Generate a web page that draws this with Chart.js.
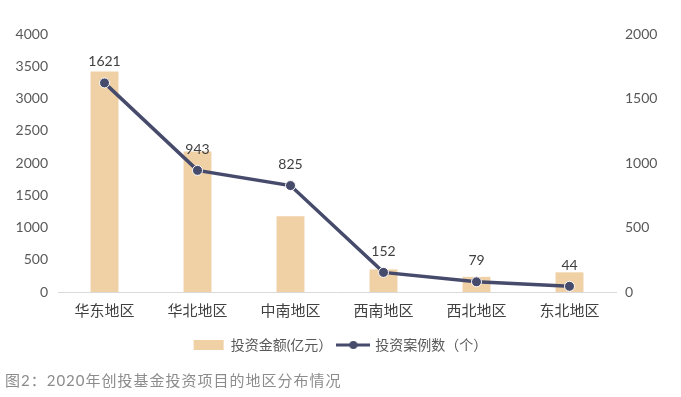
<!DOCTYPE html>
<html>
<head>
<meta charset="utf-8">
<script src="https://cdn.jsdelivr.net/npm/chart.js@4"></script>
<style>
  body { margin: 0; background: #fff; }
  #wrap { position: relative; width: 681px; height: 397px; }
  #caption {
    position: absolute; left: 5px; top: 369px;
    font: 15px Lato, "Noto Sans CJK SC", sans-serif; color: #8c8c8c;
    letter-spacing: 1px;
  }
</style>
</head>
<body>
<div id="wrap">
  <canvas id="myChart" width="681" height="397"></canvas>
  <div id="caption">图2：2020年创投基金投资项目的地区分布情况</div>
</div>
<script>
var regions = ["华东地区", "华北地区", "中南地区", "西南地区", "西北地区", "东北地区"];
var amounts = [3420, 2180, 1175, 350, 235, 305];   // 投资金额(亿元)
var cases = [1621, 943, 825, 152, 79, 44];         // 投资案例数（个）

var fontFam = "Lato, 'Noto Sans CJK SC', sans-serif";
var barColor = "#f0d1a5";
var lineColor = "#464b6c";

// little line-with-dot icon for the legend
var lineIcon = document.createElement("canvas");
lineIcon.width = 34;
lineIcon.height = 10;
var ic = lineIcon.getContext("2d");
ic.strokeStyle = lineColor;
ic.lineWidth = 3;
ic.beginPath();
ic.moveTo(0, 5);
ic.lineTo(34, 5);
ic.stroke();
ic.fillStyle = lineColor;
ic.beginPath();
ic.arc(17, 5, 4, 0, Math.PI * 2);
ic.fill();

var valueLabels = {
    id: "valueLabels",
    afterDatasetsDraw: function (chart) {
        var ctx = chart.ctx;
        var meta = chart.getDatasetMeta(1);
        ctx.save();
        ctx.font = "14px " + fontFam;
        ctx.fillStyle = "#404040";
        ctx.textAlign = "center";
        ctx.textBaseline = "middle";
        meta.data.forEach(function (pt, i) {
            ctx.fillText(cases[i], pt.x, pt.y - 21);
        });
        ctx.restore();
    }
};

var plainTick = function (v) { return String(v); };

var ctx = document.getElementById("myChart").getContext("2d");
var myChart = new Chart(ctx, {
    type: "bar",
    data: {
        labels: regions,
        datasets: [
            {
                type: "bar",
                label: "投资金额(亿元）",
                data: amounts,
                backgroundColor: barColor,
                yAxisID: "y",
                barPercentage: 0.3,
                categoryPercentage: 1,
                order: 2
            },
            {
                type: "line",
                label: "投资案例数（个）",
                data: cases,
                borderColor: lineColor,
                backgroundColor: lineColor,
                borderWidth: 3.5,
                pointRadius: 5,
                pointBackgroundColor: lineColor,
                pointBorderColor: "#ffffff",
                pointBorderWidth: 1,
                yAxisID: "y1",
                order: 1
            }
        ]
    },
    options: {
        responsive: false,
        animation: false,
        layout: { padding: { top: 34, bottom: 35, left: 0, right: 0 } },
        plugins: {
            tooltip: { enabled: false },
            legend: {
                position: "bottom",
                labels: {
                    color: "#595959",
                    font: { size: 14, family: fontFam },
                    usePointStyle: true,
                    pointStyleWidth: 30,
                    boxHeight: 10,
                    padding: 6,
                    generateLabels: function (chart) {
                        return [
                            { text: "投资金额(亿元）", fillStyle: barColor, strokeStyle: barColor, lineWidth: 0, pointStyle: "rect", datasetIndex: 0, fontColor: "#595959" },
                            { text: "投资案例数（个）", fillStyle: lineColor, strokeStyle: lineColor, lineWidth: 0, pointStyle: lineIcon, datasetIndex: 1, fontColor: "#595959" }
                        ];
                    }
                }
            }
        },
        scales: {
            x: {
                grid: { display: false, drawTicks: false },
                border: { color: "#d9d9d9" },
                ticks: { color: "#404040", font: { size: 15, family: fontFam }, padding: 10 },
                afterFit: function (s) { s.height = 40; }
            },
            y: {
                position: "left",
                min: 0, max: 4000,
                grid: { display: false, drawTicks: false },
                border: { display: false },
                ticks: { stepSize: 500, color: "#595959", font: { size: 14, family: fontFam }, padding: 10, callback: plainTick },
                afterFit: function (s) { s.width = 58; }
            },
            y1: {
                position: "right",
                min: 0, max: 2000,
                grid: { display: false, drawTicks: false },
                border: { display: false },
                ticks: { stepSize: 500, color: "#595959", font: { size: 14, family: fontFam }, padding: 9, callback: plainTick },
                afterFit: function (s) { s.width = 65; }
            }
        }
    },
    plugins: [valueLabels]
});
</script>
</body>
</html>
